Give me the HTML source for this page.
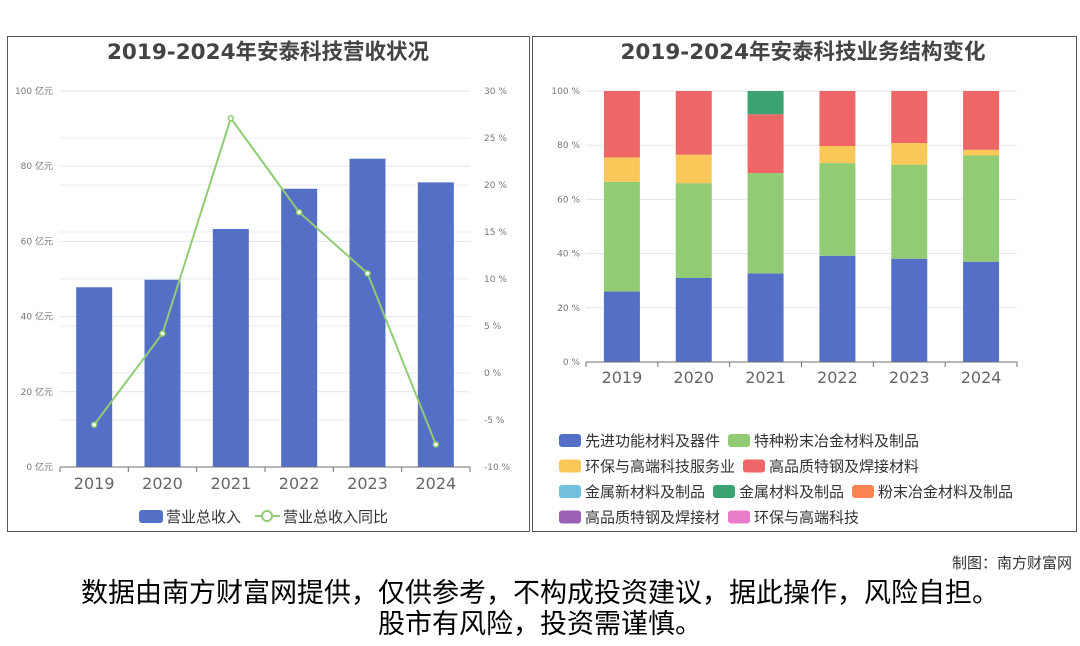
<!DOCTYPE html>
<html><head><meta charset="utf-8"><style>
body{margin:0;width:1080px;height:646px;background:#fff;font-family:"Liberation Sans","Noto Sans CJK SC",sans-serif;overflow:hidden;position:relative}
.panel{position:absolute;border:1px solid #555;background:#fff}
.t{position:absolute;color:#000}
</style></head><body>
<div class="panel" style="left:7px;top:36px;width:521px;height:494px"></div>
<div class="panel" style="left:532px;top:36px;width:543px;height:494px"></div>
<svg id="svg" width="1080" height="646" style="position:absolute;left:0;top:0"></svg>
<div class="t" style="right:8px;top:552px;font-size:15px;color:#333">制图：南方财富网</div>
<div class="t" style="left:0;width:1080px;top:578px;text-align:center;font-size:27px;line-height:31px;color:#000;font-family:'DejaVu Sans','Noto Sans CJK SC',sans-serif">数据由南方财富网提供，仅供参考，不构成投资建议，据此操作，风险自担。<br>股市有风险，投资需谨慎。</div>
<script>
const years=['2019','2020','2021','2022','2023','2024'];
const revenue=[47.8,49.8,63.3,74.0,82.0,75.7];
const growth=[-5.5,4.2,27.1,17.1,10.6,-7.6];
const leftTicks=[0,20,40,60,80,100];
const rightTicks=[-10,-5,0,5,10,15,20,25,30];
const segNames=['先进功能材料及器件','特种粉末冶金材料及制品','环保与高端科技服务业','高品质特钢及焊接材料','金属新材料及制品','金属材料及制品','粉末冶金材料及制品','高品质特钢及焊接材','环保与高端科技'];
const segColors=['#5470c6','#91cc75','#fac858','#ee6666','#73c0de','#3ba272','#fc8452','#9a60b4','#ea7ccc'];
const segAdvanced=[26,31,32.7,39.2,38.1,37];
const segPowder=[40.5,35,37,34.2,34.7,39.2];
const segEnv=[9,10.5,0,6.3,8,2.1];
const segSteel=[24.5,23.5,21.7,20.3,19.2,21.7];
const segMetalNew=[0,0,0,0,0,0];
const segMetal=[0,0,8.6,0,0,0];
const segPowder2=[0,0,0,0,0,0];
const segSteel2=[0,0,0,0,0,0];
const segEnv2=[0,0,0,0,0,0];
const pctTicks=[0,20,40,60,80,100];
const S=document.getElementById('svg');
function el(t,a,txt){const e=document.createElementNS('http://www.w3.org/2000/svg',t);for(const k in a)e.setAttribute(k,a[k]);if(txt!==undefined)e.textContent=txt;S.appendChild(e);return e;}
const F='Liberation Sans, Noto Sans CJK SC, sans-serif';
const D='DejaVu Sans, Noto Sans CJK SC, sans-serif';
let e=el('text',{x:268,y:59,'text-anchor':'middle','font-size':21.5,'font-weight':'bold',fill:'#444','font-family':D},'2019-2024年安泰科技营收状况');

e=el('text',{x:803,y:59,'text-anchor':'middle','font-size':21.5,'font-weight':'bold',fill:'#444','font-family':D},'2019-2024年安泰科技业务结构变化');

const L={x0:60,x1:470,y0:467,y1:91};
const ly=v=>L.y0-(v/100)*(L.y0-L.y1);
const ry=v=>L.y0-((v+10)/40)*(L.y0-L.y1);
const bw=(L.x1-L.x0)/years.length;
const lx=i=>L.x0+bw*(i+0.5);
rightTicks.forEach(t=>{e=el('line',{x1:L.x0,x2:L.x1,y1:ry(t),y2:ry(t),stroke:'#e8ebf3'});
e=el('text',{x:484,y:ry(t)+3,'font-size':9,fill:'#777','font-family':D},t+' %');});
leftTicks.forEach(t=>{e=el('line',{x1:L.x0,x2:L.x1,y1:ly(t),y2:ly(t),stroke:'#e0e6f1'});
e=el('text',{x:53,y:ly(t)+3,'text-anchor':'end','font-size':9,fill:'#777','font-family':D},t+' 亿元');});
revenue.forEach((v,i)=>{e=el('rect',{x:lx(i)-18,y:ly(v),width:36,height:L.y0-ly(v),fill:'#5470c6'});});
el('line',{x1:L.x0,x2:L.x1,y1:L.y0,y2:L.y0,stroke:'#6e7079'});
years.forEach((y,i)=>{el('line',{x1:L.x0+bw*i,x2:L.x0+bw*i,y1:L.y0,y2:L.y0+5,stroke:'#6e7079'});
e=el('text',{x:lx(i),y:489,'text-anchor':'middle','font-size':16,fill:'#666','font-family':D},y);});
el('line',{x1:L.x1,x2:L.x1,y1:L.y0,y2:L.y0+5,stroke:'#6e7079'});
e=el('polyline',{points:growth.map((v,i)=>lx(i)+','+ry(v)).join(' '),fill:'none',stroke:'#91cc75','stroke-width':2});
growth.forEach((v,i)=>{e=el('circle',{cx:lx(i),cy:ry(v),r:2.5,fill:'#fff',stroke:'#91cc75','stroke-width':1.5});});
e=el('rect',{x:139,y:510,width:24,height:13,rx:3,fill:'#5470c6'});
el('text',{x:166,y:522,'font-size':15,fill:'#333','font-family':F},'营业总收入');
el('line',{x1:255,x2:280,y1:516,y2:516,stroke:'#91cc75','stroke-width':2});
e=el('circle',{cx:267,cy:516,r:5,fill:'#fff',stroke:'#91cc75','stroke-width':2});
el('text',{x:283,y:522,'font-size':15,fill:'#333','font-family':F},'营业总收入同比');
const R={x0:586,x1:1017,y0:362,y1:91};
const py=v=>R.y0-(v/100)*(R.y0-R.y1);
const rbw=(R.x1-R.x0)/years.length;
const px=i=>R.x0+rbw*(i+0.5);
pctTicks.forEach(t=>{e=el('line',{x1:R.x0,x2:R.x1,y1:py(t),y2:py(t),stroke:'#e0e6f1'});
e=el('text',{x:580,y:py(t)+3,'text-anchor':'end','font-size':9,fill:'#777','font-family':D},t+' %');});
const series=[segAdvanced,segPowder,segEnv,segSteel,segMetalNew,segMetal,segPowder2,segSteel2,segEnv2];
years.forEach((y,i)=>{let acc=0;series.forEach((s,k)=>{const v=s[i];if(v>0){e=el('rect',{x:px(i)-18,y:py(acc+v),width:36,height:py(acc)-py(acc+v),fill:segColors[k]});}acc+=v;});});
el('line',{x1:R.x0,x2:R.x1,y1:R.y0,y2:R.y0,stroke:'#6e7079'});
years.forEach((y,i)=>{el('line',{x1:R.x0+rbw*i,x2:R.x0+rbw*i,y1:R.y0,y2:R.y0+5,stroke:'#6e7079'});
e=el('text',{x:px(i),y:383,'text-anchor':'middle','font-size':16,fill:'#666','font-family':D},y);});
el('line',{x1:R.x1,x2:R.x1,y1:R.y0,y2:R.y0+5,stroke:'#6e7079'});
const legRows=[[0,1],[2,3],[4,5,6],[7,8]];
legRows.forEach((row,r)=>{let x=559;row.forEach(k=>{const yy=434+r*25.5;
e=el('rect',{x:x,y:yy,width:22,height:13,rx:3,fill:segColors[k]});
el('text',{x:x+26,y:yy+12,'font-size':15,fill:'#333','font-family':F},segNames[k]);x+=26+segNames[k].length*15+8;});});
</script>
</body></html>
